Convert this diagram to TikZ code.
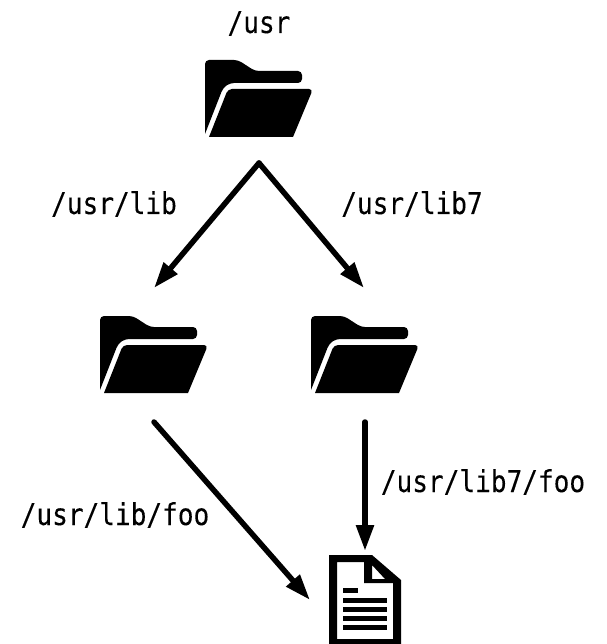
\documentclass[tikz,border=0pt]{standalone}
\usepackage{fontspec}
\setmonofont[FakeStretch=0.87,FakeBold=0.15]{DejaVu Sans Mono}
\usetikzlibrary{arrows.meta}
\tikzset{
  x=1pt,y=-1pt,
  holder/.style={inner sep=0pt,outer sep=0pt,minimum width=#1},
  link/.style={line width=5.5pt,-{Triangle[length=26pt,width=17pt]},line cap=round},
  path label/.style={font=\ttfamily\fontsize{30}{34}\selectfont,inner sep=0pt,anchor=base,text=black},
  foldericon/.pic={
    \fill[black] (0,74) [rounded corners=4pt] -- (0,0) -- (33,0) -- (50,11) -- (97,11) -- (97,23) -- (25,23) -- (18,28) [sharp corners] -- (0,74) -- cycle;
    \fill[black] (4,77) [rounded corners=4pt] -- (23,29) -- (108,29) [sharp corners] -- (88,77) -- cycle;
  },
  fileicon/.pic={
    \fill[black,even odd rule] (0,0) -- (43,0) -- (72,25) -- (72,89) -- (0,89) -- cycle
      (8,7) -- (8,84) -- (64,84) -- (64,28) -- (35,28) -- (35,7) -- cycle
      (43,10) -- (43,24) -- (56,24) -- cycle;
  },
}
\begin{document}
\begin{tikzpicture}
\useasboundingbox (0,0) rectangle (606,644);
% invisible holders, connectors end on their borders
\node[holder=108pt,minimum height=104pt] (usr) at (259,111) {};
\node[holder=108pt,minimum height=134pt] (lib) at (154,355) {};
\node[holder=108pt,minimum height=134pt] (lib7) at (365,355) {};
\node[holder=110pt,minimum height=98pt] (file) at (365,600) {};
% icons
\pic at (205,60) {foldericon};
\pic at (100,316) {foldericon};
\pic at (311,316) {foldericon};
\pic at (329,555) {fileicon};
\fill[black] (343,588) rectangle (358,592.5);
\fill[black] (343,598) rectangle (387,602.5);
\fill[black] (343,607) rectangle (387,611.5);
\fill[black] (343,616) rectangle (387,620.5);
\fill[black] (343,625) rectangle (387,629.5);
% connectors
\draw[link] (usr.south) -- (lib.north);
\draw[link] (usr.south) -- ([xshift=-1pt]lib7.north);
\draw[link] (lib.south) -- (file.west);
\draw[link] (lib7.south) -- (file.north);
% labels
\node[path label] (t1) at (259,33) {/usr};
\node[path label] (t2) at (114,214) {/usr/lib};
\node[path label] (t3) at (412,214) {/usr/lib7};
\node[path label] (t4) at (115,525) {/usr/lib/foo};
\node[path label] (t5) at (483,492) {/usr/lib7/foo};
\end{tikzpicture}
\end{document}
